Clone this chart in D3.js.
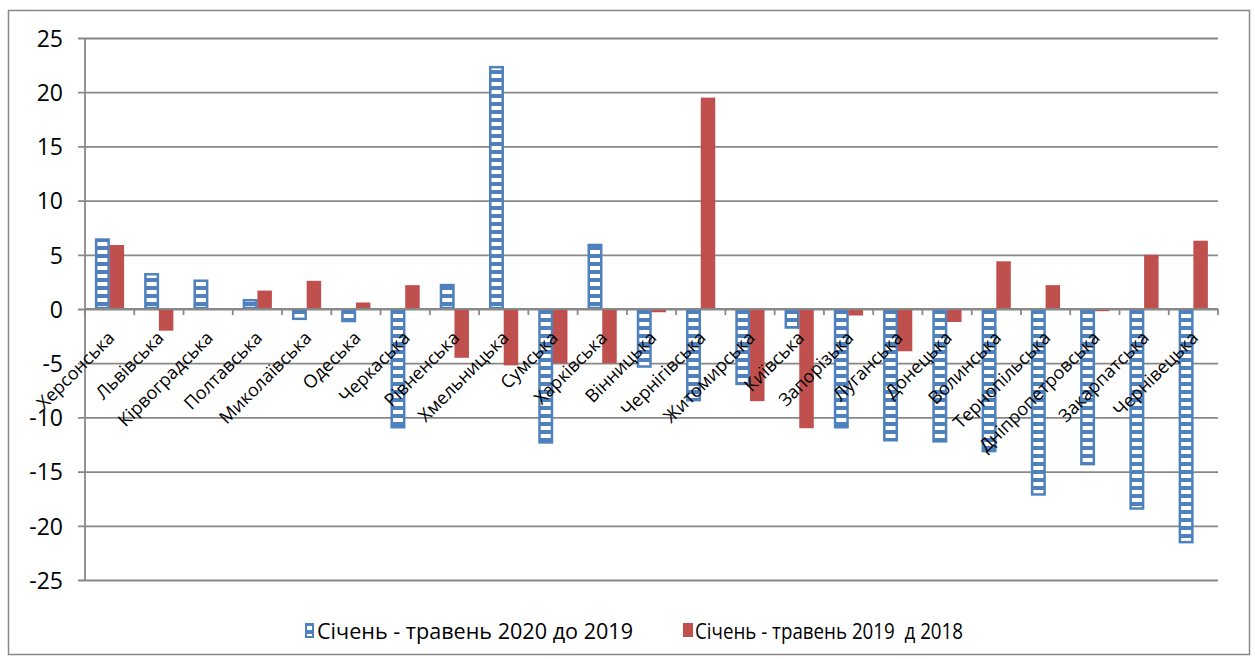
<!DOCTYPE html>
<html>
<head>
<meta charset="utf-8">
<script src="https://cdn.jsdelivr.net/npm/d3@7"></script>
<style>
  body { margin: 0; background: #fff; }
  svg text { font-family: "Open Sans", "DejaVu Sans", sans-serif; fill: #000; }
</style>
</head>
<body>
<div id="chart"></div>
<script>
// regions
const regions = ["Херсонська", "Львівська", "Кірвоградська", "Полтавська", "Миколаївська", "Одеська",
  "Черкаська", "Рівненська", "Хмельницька", "Сумська", "Харківська", "Вінницька", "Чернігівська",
  "Житомирська", "Київська", "Запорізька", "Луганська", "Донецька", "Волинська", "Тернопільська",
  "Дніпропетровська", "Закарпатська", "Чернівецька"];
// Січень - травень 2020 до 2019
const values2020 = [6.5, 3.3, 2.7, 0.9, -1.0, -1.2, -11.0, 2.3, 22.4, -12.4, 6.0, -5.4, -8.5,
  -7.0, -1.8, -11.0, -12.2, -12.3, -13.2, -17.2, -14.4, -18.5, -21.6];
// Січень - травень 2019 д 2018
const values2019 = [5.9, -2.0, 0, 1.7, 2.6, 0.6, 2.2, -4.5, -5.2, -5.0, -5.0, -0.3, 19.5,
  -8.5, -11.0, -0.6, -3.9, -1.2, 4.4, 2.2, -0.2, 5.0, 6.3];
const seriesNames = ["Січень - травень 2020 до 2019", "Січень - травень 2019  д 2018"];
const yTicks = [25, 20, 15, 10, 5, 0, -5, -10, -15, -20, -25];

const W = 1255, H = 659;
const blue = "#4F81BD", red = "#C0504D", grid = "#888888";
const plotL = 85, plotR = 1218, plotT = 38, plotB = 580;

const svg = d3.select("#chart").append("svg")
  .attr("width", W).attr("height", H);

// horizontal stripe pattern for first series
const defs = svg.append("defs");
const pat = defs.append("pattern")
  .attr("id", "stripes")
  .attr("patternUnits", "userSpaceOnUse")
  .attr("width", 8).attr("height", 8);
pat.append("rect").attr("width", 8).attr("height", 8).attr("fill", blue);
pat.append("rect").attr("y", 2).attr("width", 8).attr("height", 4).attr("fill", "#fff");

// outer frame
svg.append("rect")
  .attr("x", 8.5).attr("y", 10.5)
  .attr("width", 1241).attr("height", 644)
  .attr("fill", "none").attr("stroke", grid).attr("stroke-width", 1.5);

const x = d3.scaleBand().domain(regions).range([plotL, plotR]).paddingInner(0).paddingOuter(0);
const xs = d3.scaleBand().domain([0, 1]).range([0, x.bandwidth()]).paddingInner(0).paddingOuter(0.7);
const y = d3.scaleLinear().domain([-25, 25]).range([plotB, plotT]);

// gridlines + y axis
const yAxis = svg.append("g")
  .attr("transform", `translate(${plotL},0)`)
  .call(d3.axisLeft(y).tickValues(yTicks).tickFormat(d => String(d))
    .tickSize(-(plotR - plotL)).tickSizeOuter(0));
yAxis.select(".domain").remove();
yAxis.selectAll(".tick line").attr("stroke", grid).attr("stroke-width", 1.8).attr("x1", -7);
yAxis.selectAll(".tick text").style("font-size", "23px").attr("x", -22).attr("dy", "0.36em");
svg.append("line")
  .attr("x1", plotL).attr("x2", plotL).attr("y1", plotT).attr("y2", plotB)
  .attr("stroke", grid).attr("stroke-width", 1.8);

const rows = regions.map((r, i) => ({ region: r, v: [values2020[i], values2019[i]] }));

// bars
const g = svg.append("g");
g.selectAll("rect.s0")
  .data(rows)
  .enter()
  .append("rect")
  .attr("class", "s0")
  .attr("x", d => x(d.region) + xs(0) + 1)
  .attr("width", xs.bandwidth() - 2)
  .attr("y", d => Math.min(y(d.v[0]), y(0)) + 1)
  .attr("height", d => Math.max(0, Math.abs(y(d.v[0]) - y(0)) - 2))
  .attr("fill", "url(#stripes)")
  .attr("stroke", blue)
  .attr("stroke-width", 2.5);

g.selectAll("rect.s1")
  .data(rows)
  .enter()
  .append("rect")
  .attr("class", "s1")
  .attr("x", d => x(d.region) + xs(1))
  .attr("width", xs.bandwidth())
  .attr("y", d => Math.min(y(d.v[1]), y(0)))
  .attr("height", d => Math.abs(y(d.v[1]) - y(0)))
  .attr("fill", red);

// category axis at zero
const xAxis = svg.append("g")
  .attr("transform", `translate(0,${y(0)})`);
xAxis.append("line")
  .attr("x1", plotL).attr("x2", plotR)
  .attr("stroke", grid).attr("stroke-width", 2.2);
xAxis.selectAll("line.tk")
  .data(d3.range(regions.length + 1))
  .enter()
  .append("line")
  .attr("class", "tk")
  .attr("x1", i => plotL + i * x.step()).attr("x2", i => plotL + i * x.step())
  .attr("y1", 0).attr("y2", 6)
  .attr("stroke", grid).attr("stroke-width", 1.8);
xAxis.selectAll("text")
  .data(regions)
  .enter()
  .append("text")
  .attr("transform", d => `translate(${x(d) + x.bandwidth() / 2 + 6},${30}) rotate(-45)`)
  .attr("text-anchor", "end")
  .attr("font-size", 18)
  .text(d => d);

// legend
const legend = svg.append("g");
const lx = [305, 683];
const legendWidths = [316, 268];
legend.append("rect").attr("x", lx[0] + 1).attr("y", 624).attr("width", 7).attr("height", 13)
  .attr("fill", "url(#stripes)").attr("stroke", blue).attr("stroke-width", 2);
legend.append("rect").attr("x", lx[1]).attr("y", 623).attr("width", 10).attr("height", 14)
  .attr("fill", red);
legend.selectAll("text")
  .data(seriesNames)
  .enter()
  .append("text")
  .attr("x", (d, i) => lx[i] + 12)
  .attr("y", 639)
  .attr("font-size", 21.5)
  .attr("textLength", (d, i) => legendWidths[i])
  .attr("lengthAdjust", "spacingAndGlyphs")
  .attr("xml:space", "preserve")
  .style("white-space", "pre")
  .text(d => d);
</script>
</body>
</html>
